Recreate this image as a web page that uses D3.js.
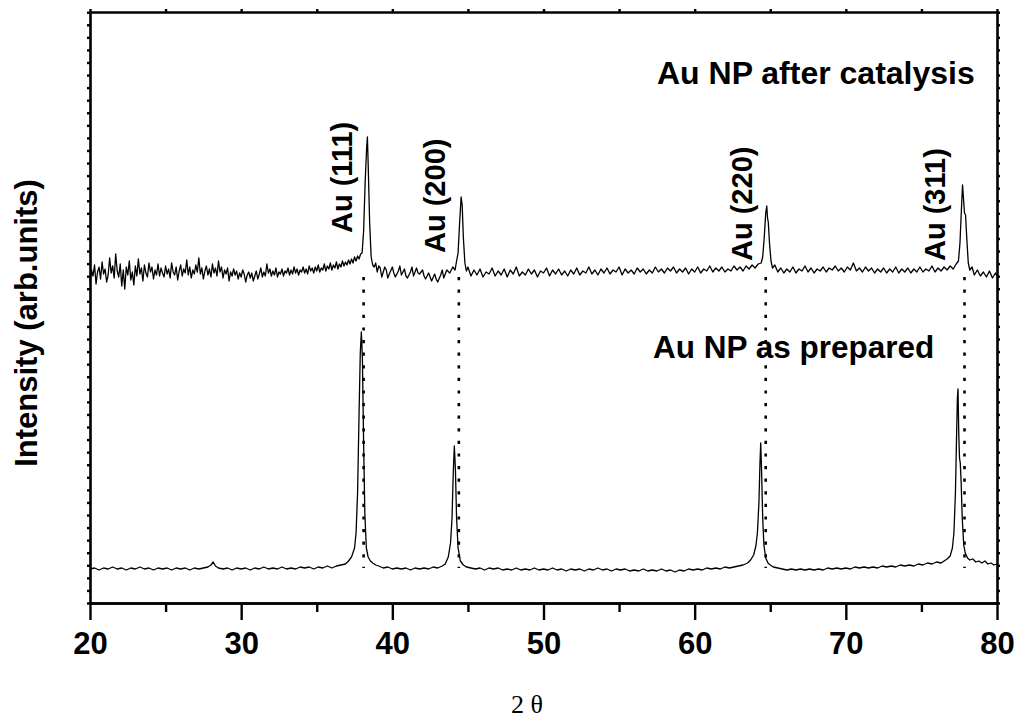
<!DOCTYPE html>
<html>
<head>
<meta charset="utf-8">
<script src="https://cdn.jsdelivr.net/npm/d3@7"></script>
<style>
    body { margin: 0; background: #fff; }
    svg { display: block; }
</style>
</head>
<body>
<svg id="chart"></svg>
<script>
// XRD patterns, [2theta, intensity] (stacked, arb. units)
const afterCatalysis = [
    [20.0,322],[20.1,333],[20.2,327],[20.3,338],[20.4,319],[20.5,331],[20.6,336],[20.7,324],[20.8,341],[20.9,329],
    [21.0,334],[21.1,321],[21.2,328],[21.3,345],[21.4,330],[21.5,337],[21.6,325],[21.7,349],[21.8,332],[21.9,326],
    [22.0,339],[22.1,317],[22.2,333],[22.3,314],[22.4,336],[22.5,328],[22.6,342],[22.7,323],[22.8,331],[22.9,318],
    [23.0,337],[23.1,327],[23.2,344],[23.3,329],[23.4,335],[23.5,322],[23.6,338],[23.7,330],[23.8,326],[23.9,340],
    [24.0,331],[24.1,336],[24.2,324],[24.3,333],[24.4,328],[24.5,339],[24.6,327],[24.7,335],[24.8,330],[24.9,326],
    [25.0,337],[25.1,329],[25.2,334],[25.3,325],[25.4,340],[25.5,331],[25.6,328],[25.7,336],[25.8,323],[25.9,332],
    [26.0,338],[26.1,327],[26.2,334],[26.3,330],[26.4,343],[26.5,328],[26.6,336],[26.7,325],[26.8,333],[26.9,329],
    [27.0,338],[27.1,331],[27.2,345],[27.3,329],[27.4,335],[27.5,324],[27.6,332],[27.7,337],[27.8,328],[27.9,334],
    [28.0,326],[28.1,339],[28.2,330],[28.3,335],[28.4,327],[28.5,342],[28.6,331],[28.7,336],[28.8,325],[28.9,333],
    [29.0,329],[29.1,335],[29.2,322],[29.3,331],[29.4,327],[29.5,334],[29.6,328],[29.7,332],[29.8,324],[29.9,330],
    [30.0,326],[30.1,333],[30.2,329],[30.3,321],[30.4,328],[30.5,331],[30.6,325],[30.7,330],[30.8,322],[30.9,327],
    [31.0,332],[31.1,324],[31.2,329],[31.3,335],[31.4,326],[31.5,331],[31.6,327],[31.7,339],[31.8,330],[31.9,334],
    [32.0,327],[32.1,332],[32.2,328],[32.3,335],[32.4,326],[32.5,331],[32.6,329],[32.7,334],[32.8,327],[32.9,332],
    [33.0,330],[33.1,335],[33.2,328],[33.3,333],[33.4,329],[33.5,336],[33.6,330],[33.7,334],[33.8,328],[33.9,333],
    [34.0,331],[34.1,336],[34.2,330],[34.3,334],[34.4,329],[34.5,337],[34.6,332],[34.7,335],[34.8,330],[34.9,336],
    [35.0,332],[35.1,338],[35.2,331],[35.3,335],[35.4,333],[35.5,339],[35.6,332],[35.7,337],[35.8,334],[35.9,340],
    [36.0,333],[36.1,338],[36.2,335],[36.3,341],[36.4,334],[36.5,339],[36.6,336],[36.7,342],[36.8,337],[36.9,341],
    [37.0,338],[37.1,343],[37.2,339],[37.3,344],[37.4,340],[37.5,346],[37.6,342],[37.7,347],[37.8,344],[37.9,349],
    [38.0,350],[38.1,372],[38.2,420],[38.3,455],[38.35,466],[38.4,440],[38.5,380],[38.6,346],[38.7,338],[38.8,336],
    [38.9,340],[39.0,331],[39.1,337],[39.2,335],[39.3,326],[39.4,331],[39.5,336],[39.6,333],[39.7,325],[39.8,329],
    [40.0,336],[40.1,330],[40.2,326],[40.4,332],[40.5,337],[40.6,328],[40.8,334],[40.9,327],
    [41.0,325],[41.2,331],[41.3,336],[41.4,327],[41.6,335],[41.7,330],[41.8,329],[42.0,333],[42.1,327],[42.2,324],
    [42.4,330],[42.5,326],[42.6,322],[42.8,329],[42.9,324],[43.0,321],[43.2,328],[43.3,333],[43.4,325],[43.6,333],
    [43.8,330],[44.0,336],[44.15,333],[44.25,342],[44.35,350],[44.45,380],
    [44.55,406],[44.62,398],[44.7,365],[44.8,340],[44.9,332],[45.0,336],[45.2,327],[45.4,333],[45.6,328],[45.8,334],
    [46.0,326],[46.2,331],[46.4,329],[46.6,335],[46.8,327],[47.0,332],[47.2,328],[47.4,334],[47.6,326],[47.8,333],
    [48.0,329],[48.2,336],[48.4,327],[48.6,331],[48.8,328],[49.0,334],[49.2,329],[49.4,333],[49.6,326],[49.8,332],
    [50.0,330],[50.2,335],[50.4,327],[50.6,333],[50.8,329],[51.0,334],[51.2,328],[51.4,332],[51.6,327],[51.8,333],
    [52.0,329],[52.2,335],[52.4,328],[52.6,332],[52.8,330],[53.0,336],[53.2,329],[53.4,333],[53.6,328],[53.8,334],
    [54.0,330],[54.2,335],[54.4,329],[54.6,333],[54.8,331],[55.0,336],[55.2,328],[55.4,334],[55.6,330],[55.8,333],
    [56.0,329],[56.2,335],[56.4,331],[56.6,334],[56.8,329],[57.0,333],[57.2,330],[57.4,336],[57.6,331],[57.8,334],
    [58.0,330],[58.2,335],[58.4,332],[58.6,336],[58.8,330],[59.0,334],[59.2,331],[59.4,335],[59.6,329],[59.8,334],
    [60.0,331],[60.2,336],[60.4,330],[60.6,334],[60.8,332],[61.0,337],[61.2,331],[61.4,335],[61.6,332],[61.8,336],
    [62.0,331],[62.2,334],[62.4,332],[62.6,337],[62.8,333],[63.0,336],[63.2,332],[63.4,337],[63.6,334],[63.8,338],
    [64.0,335],[64.2,339],[64.4,340],[64.5,346],[64.6,365],[64.7,390],[64.77,397],[64.82,385],[64.87,381],[64.95,360],
    [65.05,342],[65.15,335],[65.3,338],[65.5,331],[65.7,335],[65.9,330],[66.1,334],[66.3,331],[66.5,336],[66.7,330],
    [66.9,334],[67.1,332],[67.3,337],[67.5,331],[67.7,335],[67.9,330],[68.1,334],[68.3,332],[68.5,336],[68.7,331],
    [68.9,335],[69.1,333],[69.3,337],[69.5,332],[69.7,335],[69.9,331],[70.1,336],[70.3,333],[70.5,340],[70.7,332],
    [70.9,335],[71.1,331],[71.3,336],[71.5,332],[71.7,335],[71.9,330],[72.1,334],[72.3,331],[72.5,335],[72.7,330],
    [72.9,334],[73.1,331],[73.3,336],[73.5,330],[73.7,334],[73.9,331],[74.1,335],[74.3,330],[74.5,334],[74.7,331],
    [74.9,336],[75.1,331],[75.3,334],[75.5,332],[75.7,337],[75.9,331],[76.1,335],[76.3,332],[76.5,336],[76.7,333],
    [76.9,337],[77.1,334],[77.3,339],[77.45,342],[77.55,360],[77.65,395],[77.72,418],[77.78,405],[77.85,390],[77.92,388],
    [78.0,365],[78.1,340],[78.2,333],[78.35,336],[78.5,328],[78.7,333],[78.9,327],[79.1,331],[79.3,326],[79.5,332],
    [79.7,325],[79.9,330],[80.0,327]
];

const asPrepared = [
    [20.0,34],[20.3,35],[20.6,33],[20.9,35],[21.2,34],[21.5,36],[21.8,34],[22.1,35],[22.4,33],[22.7,35],
    [23.0,34],[23.3,36],[23.6,34],[23.9,35],[24.2,33],[24.5,35],[24.8,34],[25.1,35],[25.4,33],[25.7,35],
    [26.0,34],[26.3,35],[26.6,33],[26.9,35],[27.2,34],[27.5,35],[27.8,36],[28.0,38],[28.15,41],[28.3,37],
    [28.5,35],[28.8,34],[29.1,35],[29.4,33],[29.7,35],[30.0,34],[30.3,35],[30.6,33],[30.9,35],[31.2,34],
    [31.5,36],[31.8,34],[32.1,35],[32.4,34],[32.7,36],[33.0,34],[33.3,35],[33.6,34],[33.9,36],[34.2,35],
    [34.5,36],[34.8,34],[35.1,36],[35.4,35],[35.7,37],[36.0,35],[36.3,37],[36.6,38],[36.9,39],[37.1,42],
    [37.3,46],[37.5,55],[37.6,70],[37.7,110],[37.8,190],[37.88,250],[37.95,271],[38.02,245],[38.1,160],[38.18,90],
    [38.28,55],[38.4,46],[38.55,42],[38.7,40],[38.9,38],[39.1,37],[39.4,35],[39.7,36],[40.0,34],[40.3,35],
    [40.6,34],[40.9,35],[41.2,33],[41.5,35],[41.8,34],[42.1,35],[42.4,34],[42.7,36],[43.0,35],[43.3,37],
    [43.5,39],[43.7,46],[43.85,60],[43.95,85],[44.03,130],[44.1,157],[44.17,135],[44.25,85],[44.35,55],[44.5,42],
    [44.7,38],[44.9,36],[45.2,35],[45.5,34],[45.8,35],[46.1,33],[46.4,35],[46.7,34],[47.0,35],[47.3,33],
    [47.6,34],[47.9,33],[48.2,35],[48.5,33],[48.8,34],[49.1,33],[49.4,35],[49.7,33],[50.0,34],[50.3,33],
    [50.6,35],[50.9,33],[51.2,34],[51.5,32],[51.8,34],[52.1,33],[52.4,34],[52.7,32],[53.0,34],[53.3,33],
    [53.6,35],[53.9,33],[54.2,34],[54.5,32],[54.8,34],[55.1,33],[55.4,34],[55.7,32],[56.0,33],[56.3,32],
    [56.6,34],[56.9,32],[57.2,33],[57.5,32],[57.8,34],[58.1,32],[58.4,33],[58.7,31],[59.0,33],[59.3,32],
    [59.6,34],[59.9,33],[60.2,34],[60.5,33],[60.8,35],[61.1,34],[61.4,35],[61.7,34],[62.0,36],[62.3,35],
    [62.6,36],[62.9,37],[63.2,38],[63.5,40],[63.7,43],[63.9,48],[64.05,57],[64.15,70],[64.25,100],[64.32,140],
    [64.37,160],[64.43,130],[64.5,85],[64.58,58],[64.7,45],[64.85,40],[65.0,38],[65.2,36],[65.5,35],[65.8,34],
    [66.1,33],[66.4,34],[66.7,33],[67.0,34],[67.3,33],[67.6,34],[67.9,33],[68.2,34],[68.5,33],[68.8,35],
    [69.1,34],[69.4,35],[69.7,34],[70.0,35],[70.3,34],[70.6,36],[70.9,35],[71.2,36],[71.5,35],[71.8,36],
    [72.1,35],[72.4,37],[72.7,36],[73.0,37],[73.3,36],[73.6,38],[73.9,37],[74.2,38],[74.5,37],[74.8,39],
    [75.1,38],[75.4,40],[75.7,39],[76.0,41],[76.3,40],[76.5,42],[76.7,44],[76.9,47],[77.05,55],[77.15,70],
    [77.25,110],[77.33,170],[77.38,205],[77.42,214],[77.47,170],[77.52,145],[77.57,140],[77.63,120],[77.7,85],[77.8,58],
    [77.9,50],[78.05,45],[78.2,43],[78.4,44],[78.6,41],[78.8,42],[79.0,40],[79.2,42],[79.4,39],[79.6,40],
    [79.8,38],[80.0,39]
];

// reference Au reflections (dotted guides)
const refPeaks = [38.1, 44.4, 64.7, 77.85];
const refLabels = ["Au (111)", "Au (200)", "Au (220)", "Au (311)"];
// [2theta of text baseline, intensity where text starts]
const labelAnchors = [[37.33, 370], [43.48, 350], [63.79, 342], [76.56, 342]];

const xMajorTicks = [20, 30, 40, 50, 60, 70, 80];
const xMinorTicks = [25, 35, 45, 55, 65, 75];

const width = 1020, height = 721;
const margin = {top: 12, right: 23, bottom: 118, left: 90};
const font = "'Liberation Sans', Arial, Helvetica, sans-serif";

const svg = d3.select("#chart")
    .attr("width", width)
    .attr("height", height);

const x = d3.scaleLinear().domain([20, 80]).range([margin.left, width - margin.right]);
const y = d3.scaleLinear().domain([0, 591]).range([height - margin.bottom, margin.top]);

const yTicks = d3.range(0, 592, 12.57);

// frame + axes
const axisG = svg.append("g");

const bottomAxis = axisG.append("g")
    .attr("transform", `translate(0,${y(0)})`)
    .call(d3.axisBottom(x).tickValues(xMajorTicks).tickSize(17).tickSizeOuter(0).tickFormat(d3.format("d")));
bottomAxis.selectAll("text")
    .attr("font-family", font)
    .attr("font-weight", "bold")
    .attr("font-size", 31)
    .attr("dy", 0)
    .attr("y", 51);

axisG.append("g")
    .attr("transform", `translate(0,${y(0)})`)
    .call(d3.axisBottom(x).tickValues(xMinorTicks).tickSize(9).tickSizeOuter(0).tickFormat(""));

axisG.append("g")
    .attr("transform", `translate(0,${y(591)})`)
    .call(d3.axisTop(x).tickValues(xMajorTicks.concat(xMinorTicks)).tickSize(3).tickSizeOuter(0).tickFormat(""));

axisG.append("g")
    .attr("transform", `translate(${x(20)},0)`)
    .call(d3.axisLeft(y).tickValues(yTicks).tickSize(3).tickSizeOuter(0).tickFormat(""));

axisG.append("g")
    .attr("transform", `translate(${x(80)},0)`)
    .call(d3.axisRight(y).tickValues(yTicks).tickSize(3).tickSizeOuter(0).tickFormat(""));

axisG.selectAll(".domain").attr("stroke", "#000").attr("stroke-width", 2.6);
axisG.selectAll(".tick line").attr("stroke", "#000").attr("stroke-width", 2.4);
axisG.selectAll(".tick text").attr("fill", "#000");

// dotted guides
svg.append("g")
    .selectAll("line")
    .data(refPeaks)
    .join("line")
    .attr("x1", d => x(d))
    .attr("x2", d => x(d))
    .attr("y1", y(326))
    .attr("y2", y(35))
    .attr("stroke", "#000")
    .attr("stroke-width", 2.6)
    .attr("stroke-dasharray", "3.2,9.4");

// traces
const line = d3.line()
    .x(d => x(d[0]))
    .y(d => y(d[1]));

[afterCatalysis, asPrepared].forEach(series => {
    svg.append("path")
        .datum(series)
        .attr("d", line)
        .attr("fill", "none")
        .attr("stroke", "#000")
        .attr("stroke-width", 1.3)
        .attr("stroke-linejoin", "round");
});

// rotated peak labels
svg.append("g")
    .selectAll("text")
    .data(refLabels)
    .join("text")
    .attr("transform", (d, i) => `translate(${x(labelAnchors[i][0])},${y(labelAnchors[i][1])}) rotate(-90)`)
    .attr("font-family", font)
    .attr("font-weight", "bold")
    .attr("font-size", 29)
    .attr("fill", "#000")
    .text(d => d);

// sample labels
svg.append("text")
    .attr("x", 657).attr("y", 84)
    .attr("font-family", font).attr("font-weight", "bold").attr("font-size", 32)
    .text("Au NP after catalysis");

svg.append("text")
    .attr("x", 653).attr("y", 358)
    .attr("font-family", font).attr("font-weight", "bold").attr("font-size", 31.5)
    .text("Au NP as prepared");

// axis titles
svg.append("text")
    .attr("transform", "translate(37,323) rotate(-90)")
    .attr("text-anchor", "middle")
    .attr("font-family", font).attr("font-weight", "bold").attr("font-size", 31)
    .text("Intensity (arb.units)");

svg.append("text")
    .attr("x", 527).attr("y", 713)
    .attr("text-anchor", "middle")
    .attr("font-family", "'Liberation Serif', 'Times New Roman', serif")
    .attr("font-size", 26)
    .text("2 θ");
</script>
</body>
</html>
